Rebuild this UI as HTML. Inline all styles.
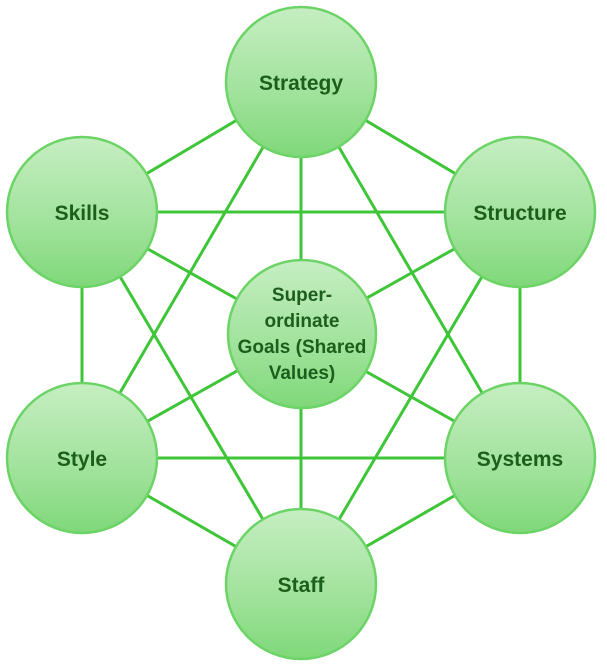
<!DOCTYPE html>
<html><head><meta charset="utf-8"><style>html,body{margin:0;padding:0;background:#fff}svg{display:block}</style></head>
<body>
<svg width="607" height="668" viewBox="0 0 607 668" xmlns="http://www.w3.org/2000/svg">
<defs>
<linearGradient id="g" x1="0" y1="0" x2="0" y2="1">
<stop offset="0" stop-color="#c6eec2"/>
<stop offset="0.6" stop-color="#9fe29a"/>
<stop offset="1" stop-color="#7fd879"/>
</linearGradient>
</defs>
<g stroke="#3fc538" stroke-width="3">
<line x1="301" y1="82" x2="82" y2="212"/><line x1="301" y1="82" x2="520" y2="212"/>
<line x1="301" y1="82" x2="82" y2="458"/><line x1="301" y1="82" x2="520" y2="458"/>
<line x1="301" y1="82" x2="301" y2="584"/>
<line x1="82" y1="212" x2="520" y2="212"/><line x1="82" y1="212" x2="82" y2="458"/>
<line x1="82" y1="212" x2="520" y2="458"/><line x1="82" y1="212" x2="301" y2="584"/>
<line x1="520" y1="212" x2="520" y2="458"/><line x1="520" y1="212" x2="82" y2="458"/>
<line x1="520" y1="212" x2="301" y2="584"/>
<line x1="82" y1="458" x2="520" y2="458"/><line x1="82" y1="458" x2="301" y2="584"/>
<line x1="520" y1="458" x2="301" y2="584"/>
</g>
<g fill="url(#g)" stroke="#6cd466" stroke-width="2.5">
<circle cx="301" cy="82" r="75"/>
<circle cx="82" cy="212" r="75"/>
<circle cx="520" cy="212" r="75"/>
<circle cx="82" cy="458" r="75"/>
<circle cx="520" cy="458" r="75"/>
<circle cx="301" cy="584" r="75"/>
<circle cx="302" cy="334" r="74"/>
</g>
<g font-family="Liberation Sans, sans-serif" font-weight="bold" font-size="21" fill="#1c5e1c" text-anchor="middle">
<text x="301" y="90">Strategy</text>
<text x="82" y="220">Skills</text>
<text x="520" y="220">Structure</text>
<text x="82" y="466">Style</text>
<text x="520" y="466">Systems</text>
<text x="301" y="592">Staff</text>
</g>
<g font-family="Liberation Sans, sans-serif" font-weight="bold" font-size="19" fill="#1c5e1c" text-anchor="middle">
<text x="302" y="301">Super-</text>
<text x="302" y="327">ordinate</text>
<text x="302" y="353">Goals (Shared</text>
<text x="302" y="379">Values)</text>
</g>
</svg>
</body></html>
